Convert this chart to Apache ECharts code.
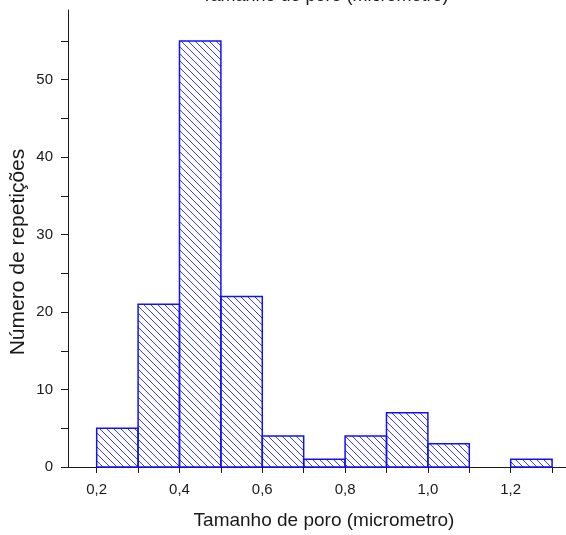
<!DOCTYPE html>
<html>
<head>
<meta charset="utf-8">
<script src="https://cdn.jsdelivr.net/npm/echarts@6/dist/echarts.min.js"></script>
<style>html,body{margin:0;padding:0;background:#fff}#c{width:566px;height:535px}</style>
</head>
<body>
<div id="c"></div>
<script>
// Histogram bins (left edge, right edge) and counts
const binStarts = [0.2, 0.3, 0.4, 0.5, 0.6, 0.7, 0.8, 0.9, 1.0, 1.1, 1.2];
const binEnds   = [0.3, 0.4, 0.5, 0.6, 0.7, 0.8, 0.9, 1.0, 1.1, 1.2, 1.3];
const counts    = [5, 21, 55, 22, 4, 1, 4, 7, 3, 0, 1];
const xTickValues = [0.2, 0.3, 0.4, 0.5, 0.6, 0.7, 0.8, 0.9, 1.0, 1.1, 1.2, 1.3];
const xLabelValues = [0.2, 0.4, 0.6, 0.8, 1.0, 1.2];
const yTickValues = [0, 5, 10, 15, 20, 25, 30, 35, 40, 45, 50, 55];
const yLabelValues = [0, 10, 20, 30, 40, 50];
const titleText = 'Tamanho de poro (micrometro)';
const xName = 'Tamanho de poro (micrometro)';
const yName = 'Número de repetições';

// hatch pattern: crisp 1px "\" diagonals, 7px apart
const tile = document.createElement('canvas');
tile.width = 7; tile.height = 7;
const g = tile.getContext('2d');
g.fillStyle = '#3a3aff';
for (let i = 0; i < 7; i++) g.fillRect(i, i, 1, 1);
const hatch = { image: tile, repeat: 'repeat' };

const data = binStarts.map((s, i) => [s, binEnds[i], counts[i]]);
const FONT = '"Liberation Sans", Arial, sans-serif';
const chart = echarts.init(document.getElementById('c'), null, { renderer: 'canvas' });
const fmt = v => (Math.round(v * 10) / 10).toFixed(1).replace('.', ',');

chart.setOption({
  animation: false,
  backgroundColor: '#ffffff',
  grid: { left: 68, right: 0, top: 10, bottom: 68, containLabel: false },
  xAxis: {
    type: 'value', min: 0.1307, max: 1.3336,
    axisLine: { show: true, lineStyle: { color: '#1a1a1a', width: 1 } },
    axisTick: { show: true, length: 6, customValues: xTickValues, lineStyle: { color: '#1a1a1a' } },
    axisLabel: { customValues: xLabelValues, formatter: fmt, color: '#1a1a1a', fontSize: 15, fontFamily: FONT, margin: 15 },
    splitLine: { show: false }
  },
  yAxis: {
    type: 'value', min: 0, max: 59,
    axisLine: { show: true, lineStyle: { color: '#1a1a1a', width: 1 } },
    axisTick: { show: true, length: 7, customValues: yTickValues, lineStyle: { color: '#1a1a1a' } },
    axisLabel: { customValues: yLabelValues, color: '#1a1a1a', fontSize: 15, fontFamily: FONT, margin: 15 },
    splitLine: { show: false }
  },
  graphic: [
    { type: 'text', x: 325, y: -4, style: { text: titleText, font: '18px ' + FONT, fill: '#1a1a1a', align: 'center', verticalAlign: 'middle' } },
    { type: 'text', x: 324, y: 521, style: { text: xName, font: '19px ' + FONT, fill: '#1a1a1a', align: 'center', verticalAlign: 'middle' } },
    { type: 'text', x: 18, y: 252, rotation: Math.PI / 2, style: { text: yName, font: '21px ' + FONT, fill: '#1a1a1a', align: 'center', verticalAlign: 'middle' } }
  ],
  series: [{
    type: 'custom',
    data: data,
    encode: { x: [0, 1], y: 2 },
    renderItem: function (params, api) {
      const x0 = api.value(0), x1 = api.value(1), y = api.value(2);
      if (!y) return null;
      const p0 = api.coord([x0, y]);
      const p1 = api.coord([x1, 0]);
      return {
        type: 'rect',
        shape: { x: p0[0], y: p0[1], width: p1[0] - p0[0], height: p1[1] - p0[1] },
        style: { fill: hatch, stroke: '#1010ff', lineWidth: 1.5 }
      };
    }
  }]
});
</script>
</body>
</html>
